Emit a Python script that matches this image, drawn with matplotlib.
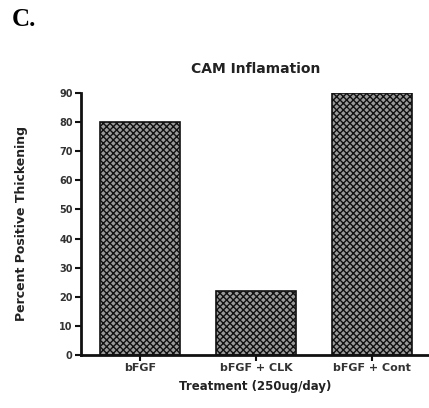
import matplotlib
matplotlib.use("Agg")
import matplotlib.pyplot as plt

categories = ["bFGF", "bFGF + CLK", "bFGF + Cont"]
values = [80, 22, 90]
yticks = [0, 10, 20, 30, 40, 50, 60, 70, 80, 90]

plt.rcParams['hatch.linewidth'] = 1.0
plt.rcParams['hatch.color'] = '#222222'

fig = plt.figure(figsize=(4.29, 4.08), dpi=100)
ax = fig.add_axes([0.1888, 0.1299, 0.81, 0.6423])

x = list(range(len(categories)))
ax.bar(x, values, width=0.69, facecolor='#9a9a9a', edgecolor='#111111',
       hatch='xxxxx', linewidth=1.2)

ax.set_xlim(-0.51, 2.49)
ax.set_ylim(0, 90)
ax.set_yticks(yticks)
ax.set_xticks(x)
ax.set_xticklabels(categories, fontsize=8, fontweight='bold', color='#333333')
ax.set_yticklabels([str(v) for v in yticks], fontsize=7, fontweight='bold', color='#333333')
ax.tick_params(axis='both', length=4, width=1.5, color='#111111', pad=2)

for s in ['top', 'right']:
    ax.spines[s].set_visible(False)
for s in ['left', 'bottom']:
    ax.spines[s].set_linewidth(2)
    ax.spines[s].set_color('#111111')

ax.set_ylabel("Percent Positive Thickening", fontsize=9, fontweight='bold', labelpad=22, color='#222222')
ax.set_xlabel("Treatment (250ug/day)", fontsize=8.5, fontweight='bold', labelpad=5, color='#222222')
fig.text(0.595, 0.83, "CAM Inflamation", fontsize=10, fontweight='bold', ha='center', va='center', color='#222222')
fig.text(0.028, 0.952, "C.", fontsize=18, fontweight='bold', family='Liberation Serif', ha='left', va='center')

fig.savefig("out.png", dpi=100)
